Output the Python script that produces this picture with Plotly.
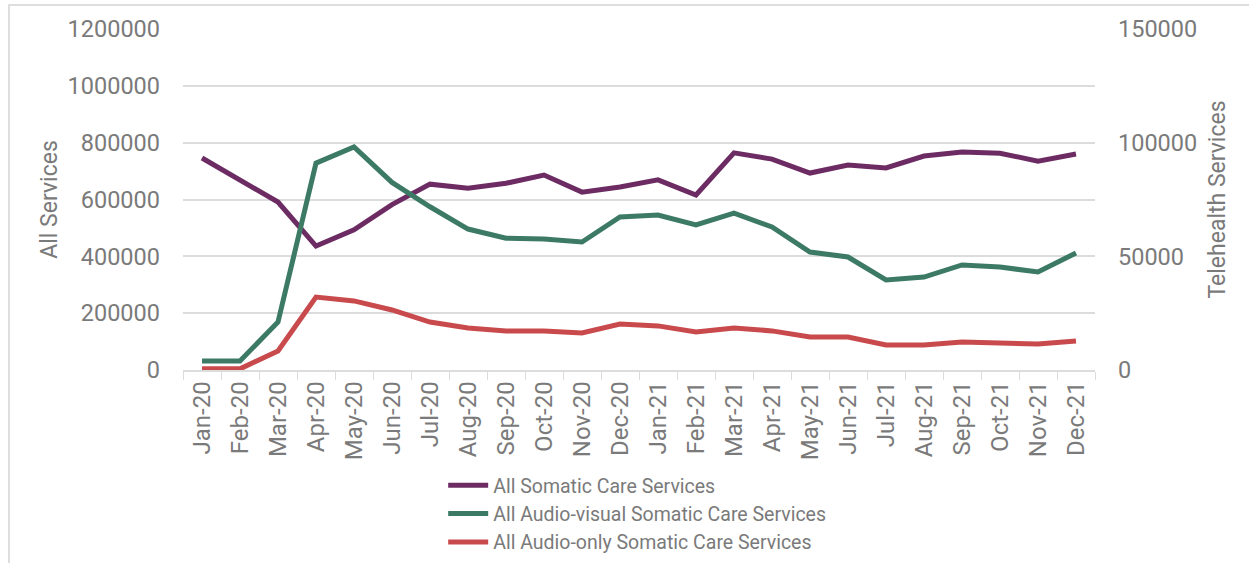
import plotly.graph_objects as go

months = ["Jan-20", "Feb-20", "Mar-20", "Apr-20", "May-20", "Jun-20", "Jul-20", "Aug-20",
          "Sep-20", "Oct-20", "Nov-20", "Dec-20", "Jan-21", "Feb-21", "Mar-21", "Apr-21",
          "May-21", "Jun-21", "Jul-21", "Aug-21", "Sep-21", "Oct-21", "Nov-21", "Dec-21"]

all_somatic = [746000, 669000, 591000, 436000, 493000, 582000, 654000, 640000,
               657000, 686000, 626000, 644000, 669000, 616000, 764000, 742000,
               693000, 721000, 711000, 753000, 767000, 763000, 735000, 760000]

audio_visual = [4000, 4000, 21100, 91000, 98100, 82500, 71800, 62000,
                58000, 57600, 56300, 67300, 68200, 63800, 69000, 62900,
                51900, 49700, 39600, 40900, 46200, 45300, 43100, 51500]

audio_only = [500, 500, 8400, 32100, 30400, 26400, 21100, 18500,
              17200, 17200, 16300, 20200, 19400, 16700, 18500, 17200,
              14500, 14500, 11000, 11000, 12300, 11900, 11400, 12800]

left_ticks = [0, 200000, 400000, 600000, 800000, 1000000, 1200000]
right_ticks = [0, 50000, 100000, 150000]

PURPLE = "#6c2c63"
GREEN = "#3d7a66"
RED = "#c94a4c"
GRAY = "#7a7a7a"
GRID = "#dcdcdc"
FONT = "Roboto"

fig = go.Figure()
fig.add_trace(go.Scatter(x=months, y=all_somatic, mode="lines", name="All Somatic Care Services",
                         line=dict(color=PURPLE, width=5), yaxis="y"))
fig.add_trace(go.Scatter(x=months, y=audio_visual, mode="lines", name="All Audio-visual Somatic Care Services",
                         line=dict(color=GREEN, width=5), yaxis="y2"))
fig.add_trace(go.Scatter(x=months, y=audio_only, mode="lines", name="All Audio-only Somatic Care Services",
                         line=dict(color=RED, width=5), yaxis="y2"))

fig.update_layout(
    width=1249, height=563,
    margin=dict(l=183, r=154, t=29, b=193),
    paper_bgcolor="white", plot_bgcolor="white",
    font=dict(family=FONT, color=GRAY, size=20),
    showlegend=True,
    legend=dict(orientation="v", xref="paper", x=0.498, xanchor="center",
                yref="container", y=1 - 466 / 563, yanchor="top",
                font=dict(family=FONT, size=19.5, color=GRAY),
                itemwidth=40, tracegroupgap=0, bgcolor="rgba(0,0,0,0)"),
    xaxis=dict(type="category", tickmode="array", tickvals=months, ticktext=months,
               tickangle=-90, tickfont=dict(size=24, color=GRAY), automargin=False,
               showgrid=False, showline=True, linecolor=GRID, linewidth=1.5,
               ticks="outside", tickson="boundaries", ticklen=8, tickcolor=GRID,
               range=[-0.5, len(months) - 0.5], zeroline=False),
    yaxis=dict(range=[0, 1200000], tickmode="array", tickvals=left_ticks,
               ticktext=[str(v) for v in left_ticks], automargin=False,
               tickfont=dict(size=23.5, color=GRAY), showgrid=True, gridcolor=GRID, gridwidth=1.5,
               zeroline=False, showline=False, ticks="", ticklabelstandoff=22,
               title=dict(text="All Services", font=dict(size=23, color=GRAY), standoff=3)),
    yaxis2=dict(range=[0, 150000], overlaying="y", side="right", tickmode="array",
                tickvals=right_ticks, ticktext=[str(v) for v in right_ticks], automargin=False,
                tickfont=dict(size=23.5, color=GRAY), showgrid=False, zeroline=False,
                showline=False, ticks="", ticklabelstandoff=22,
                title=dict(text="Telehealth Services", font=dict(size=23, color=GRAY), standoff=12)),
    shapes=[dict(type="rect", xref="paper", yref="paper",
                 x0=(9 - 183) / 912, x1=(1256 - 183) / 912,
                 y0=(370 - 600) / 341, y1=(370 - 5) / 341,
                 line=dict(color="#d4d4d4", width=1.5), layer="below")],
)

fig.write_html("out.html")
